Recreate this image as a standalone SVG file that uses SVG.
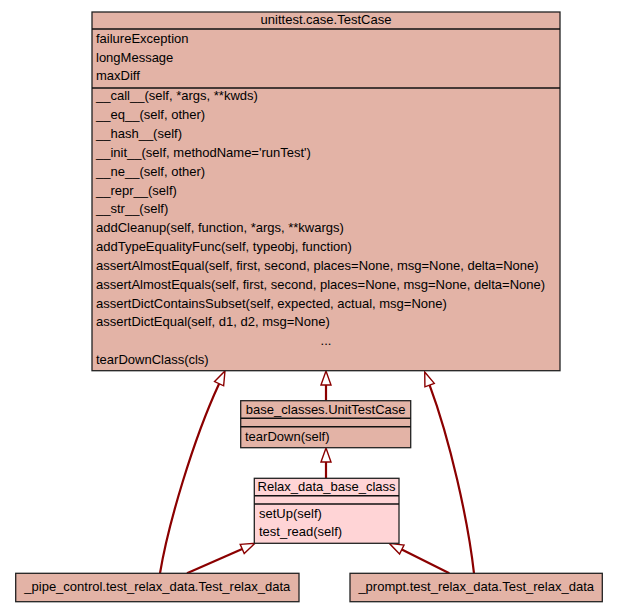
<svg xmlns="http://www.w3.org/2000/svg" width="617" height="613" viewBox="0 0 617 613">
<style>
.box{fill:#e3b3a6;stroke:#222;stroke-width:1.3}
.lbox{fill:#ffd4d6;stroke:#222;stroke-width:1.3}
.sep{stroke:#111;stroke-width:1.5}
text{font-family:"Liberation Sans",Arial,sans-serif;font-size:13px;fill:#000}
.c{text-anchor:middle}
.edge{fill:none;stroke:#8b0000;stroke-width:2.2}
</style>
<defs>
<marker id="inh" markerUnits="userSpaceOnUse" markerWidth="20" markerHeight="14" refX="0" refY="0" viewBox="-1 -7 17 14" orient="auto" overflow="visible">
<path d="M0,-5 L14,0 L0,5 Z" fill="#fff" stroke="#8b0000" stroke-width="1.4"/>
</marker>
</defs>
<rect width="617" height="613" fill="#fff"/>
<g id="connectors">
<path class="edge" d="M326,400.7 L326,385" marker-end="url(#inh)"/>
<path class="edge" d="M326,478.3 L326,462" marker-end="url(#inh)"/>
<path class="edge" d="M160,573.3 C168,525 193,440 219.1,383.7" marker-end="url(#inh)"/>
<path class="edge" d="M474,573.3 C468,520 450,440 429.6,385.1" marker-end="url(#inh)"/>
<path class="edge" d="M187,573.3 L242.2,548.9" marker-end="url(#inh)"/>
<path class="edge" d="M449.3,573.3 L401.8,549.6" marker-end="url(#inh)"/>
</g>
<g id="TestCase">
<rect class="box" x="92" y="12" width="468" height="358.7"/>
<line class="sep" x1="92" y1="29" x2="560" y2="29"/>
<line class="sep" x1="92" y1="88" x2="560" y2="88"/>
<text class="c" x="326" y="24">unittest.case.TestCase</text>
<text x="96" y="42.9">failureException</text>
<text x="96" y="61.6">longMessage</text>
<text x="96" y="80.3">maxDiff</text>
<text x="96" y="100.3">__call__(self, *args, **kwds)</text>
<text x="96" y="119.1">__eq__(self, other)</text>
<text x="96" y="138">__hash__(self)</text>
<text x="96" y="156.8">__init__(self, methodName='runTest')</text>
<text x="96" y="175.7">__ne__(self, other)</text>
<text x="96" y="194.5">__repr__(self)</text>
<text x="96" y="213.3">__str__(self)</text>
<text x="96" y="232.2">addCleanup(self, function, *args, **kwargs)</text>
<text x="96" y="251">addTypeEqualityFunc(self, typeobj, function)</text>
<text x="96" y="269.9">assertAlmostEqual(self, first, second, places=None, msg=None, delta=None)</text>
<text x="96" y="288.7">assertAlmostEquals(self, first, second, places=None, msg=None, delta=None)</text>
<text x="96" y="307.5">assertDictContainsSubset(self, expected, actual, msg=None)</text>
<text x="96" y="326.4">assertDictEqual(self, d1, d2, msg=None)</text>
<text class="c" x="326" y="345.2">...</text>
<text x="96" y="364">tearDownClass(cls)</text>
</g>
<g id="UnitTestCase">
<rect class="box" x="240.7" y="400.7" width="170" height="47"/>
<line class="sep" x1="240.7" y1="418.3" x2="410.7" y2="418.3"/>
<line class="sep" x1="240.7" y1="426.7" x2="410.7" y2="426.7"/>
<text class="c" x="325.7" y="413.8">base_classes.UnitTestCase</text>
<text x="245" y="440.5">tearDown(self)</text>
</g>
<g id="Relax_data_base_class">
<rect class="lbox" x="254.3" y="478.3" width="144.7" height="65"/>
<line class="sep" x1="254.3" y1="495.7" x2="399" y2="495.7"/>
<line class="sep" x1="254.3" y1="504" x2="399" y2="504"/>
<text class="c" x="326.6" y="490.5">Relax_data_base_class</text>
<text x="259" y="517.8">setUp(self)</text>
<text x="259" y="536.2">test_read(self)</text>
</g>
<g id="pipe_control_Test_relax_data">
<rect class="box" x="15.7" y="573.3" width="283.3" height="28.4"/>
<text class="c" x="157.3" y="591.2">_pipe_control.test_relax_data.Test_relax_data</text>
</g>
<g id="prompt_Test_relax_data">
<rect class="box" x="350" y="573.3" width="252.3" height="28.4"/>
<text class="c" x="476.2" y="591.2">_prompt.test_relax_data.Test_relax_data</text>
</g>
</svg>
